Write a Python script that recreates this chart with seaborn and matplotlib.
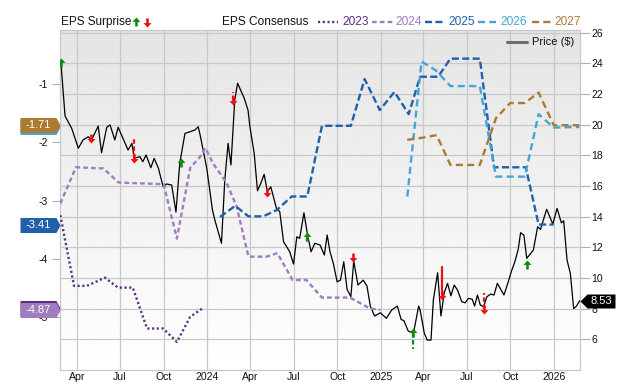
import numpy as np
import pandas as pd
import matplotlib.pyplot as plt
import matplotlib.dates as mdates
import matplotlib.transforms as mtransforms
from matplotlib.lines import Line2D
from matplotlib.ticker import FuncFormatter
import seaborn as sns

# ---- data ----
price_dates = [
    "2023-02-26", "2023-03-07", "2023-03-21", "2023-04-04", "2023-04-14", "2023-04-25",
    "2023-05-02", "2023-05-16", "2023-05-23", "2023-06-03", "2023-06-10", "2023-06-20",
    "2023-06-27", "2023-07-18", "2023-07-26", "2023-07-31", "2023-08-12", "2023-08-18",
    "2023-08-25", "2023-09-04", "2023-09-11", "2023-09-20", "2023-09-30", "2023-10-07",
    "2023-10-18", "2023-10-27", "2023-11-04", "2023-11-15", "2023-11-26", "2023-12-06",
    "2023-12-13", "2023-12-17", "2023-12-31", "2024-01-12", "2024-01-17", "2024-01-31",
    "2024-02-07", "2024-02-14", "2024-02-20", "2024-02-28", "2024-03-05", "2024-03-19",
    "2024-03-27", "2024-03-31", "2024-04-09", "2024-04-16", "2024-04-23", "2024-04-30",
    "2024-05-07", "2024-05-14", "2024-05-26", "2024-06-02", "2024-06-10", "2024-06-23",
    "2024-07-01", "2024-07-08", "2024-07-14", "2024-07-23", "2024-07-30", "2024-08-07",
    "2024-08-15", "2024-08-26", "2024-09-04", "2024-09-10", "2024-09-16", "2024-09-23",
    "2024-10-01", "2024-10-08", "2024-10-15", "2024-10-22", "2024-10-30", "2024-11-05",
    "2024-11-14", "2024-11-25", "2024-12-03", "2024-12-10", "2024-12-19", "2024-12-31",
    "2025-01-13", "2025-01-24", "2025-02-05", "2025-02-13", "2025-02-19", "2025-02-28",
    "2025-03-11", "2025-03-22", "2025-03-25", "2025-04-03", "2025-04-09", "2025-04-17",
    "2025-04-22", "2025-05-01", "2025-05-08", "2025-05-15", "2025-05-22", "2025-05-29",
    "2025-06-05", "2025-06-12", "2025-06-21", "2025-06-28", "2025-07-05", "2025-07-13",
    "2025-07-18", "2025-07-24", "2025-07-30", "2025-08-06", "2025-08-13", "2025-08-21",
    "2025-08-28", "2025-09-04", "2025-09-13", "2025-09-18", "2025-09-27", "2025-10-04",
    "2025-10-11", "2025-10-18", "2025-10-23", "2025-10-30", "2025-11-05", "2025-11-19",
    "2025-11-28", "2025-12-04", "2025-12-17", "2025-12-30", "2026-01-08", "2026-01-17",
    "2026-01-22", "2026-01-29", "2026-02-05", "2026-02-12", "2026-02-18", "2026-02-25",
]
price_values = [
    24.17, 20.56, 19.76, 18.46, 19.00, 19.21, 19.00, 19.91, 18.17, 19.83, 19.98, 19.00,
    19.83, 18.34, 18.78, 17.80, 17.91, 17.58, 18.02, 17.19, 17.80, 17.15, 15.95, 16.13,
    16.06, 14.30, 17.48, 19.43, 19.54, 19.65, 19.86, 19.32, 17.15, 14.43, 13.78, 12.26,
    16.39, 18.78, 17.37, 21.60, 22.70, 21.72, 20.95, 19.86, 18.13, 15.69, 16.17, 16.76,
    15.62, 15.95, 14.54, 14.32, 12.36, 11.71, 10.91, 12.69, 12.58, 14.25, 12.91, 11.71,
    12.26, 12.15, 11.50, 12.80, 11.71, 10.95, 9.75, 9.86, 11.06, 9.26, 8.78, 11.10,
    9.54, 9.86, 9.47, 8.17, 7.52, 7.73, 7.37, 7.91, 8.17, 7.30, 7.21, 6.54,
    6.39, 8.17, 7.91, 6.39, 5.95, 5.95, 8.56, 10.34, 7.52, 9.04, 9.65, 8.84,
    9.54, 9.21, 8.45, 8.38, 8.67, 8.61, 8.17, 8.89, 8.24, 8.13, 8.78, 8.95,
    8.89, 9.65, 9.17, 8.89, 9.75, 10.47, 11.06, 11.87, 12.95, 12.80, 11.28, 11.82,
    13.34, 13.17, 14.48, 13.52, 14.54, 13.60, 13.73, 11.17, 10.30, 8.00, 8.17, 8.53,
]

eps_2023_dates = ["2023-02-25", "2023-03-26", "2023-04-22", "2023-05-30", "2023-06-27",
                  "2023-07-28", "2023-08-27", "2023-09-30", "2023-10-29", "2023-11-26",
                  "2023-12-23"]
eps_2023 = [-3.25, -4.46, -4.46, -4.32, -4.49, -4.49, -5.19, -5.19, -5.42, -4.99, -4.84]

eps_2024_dates = ["2023-02-25", "2023-03-30", "2023-05-27", "2023-06-28", "2023-10-01",
                  "2023-10-29", "2023-11-26", "2023-12-17", "2023-12-28", "2024-01-13",
                  "2024-02-11", "2024-03-03", "2024-03-28", "2024-05-05", "2024-05-28",
                  "2024-06-29", "2024-07-28", "2024-08-30", "2024-10-28", "2024-12-10",
                  "2024-12-31"]
eps_2024 = [-3.05, -2.43, -2.45, -2.69, -2.72, -3.65, -2.44, -2.25, -2.10, -2.36,
            -2.70, -3.10, -3.96, -3.96, -3.90, -4.36, -4.36, -4.66, -4.66, -4.85, -4.87]

eps_2025_dates = ["2024-01-28", "2024-02-29", "2024-03-28", "2024-04-28", "2024-05-27",
                  "2024-06-27", "2024-07-30", "2024-08-30", "2024-10-30", "2024-11-28",
                  "2024-12-30", "2025-01-30", "2025-03-01", "2025-03-25", "2025-05-02",
                  "2025-05-28", "2025-07-29", "2025-08-28", "2025-11-03", "2025-11-30",
                  "2026-01-01"]
eps_2025 = [-3.28, -3.09, -3.27, -3.27, -3.16, -2.93, -2.93, -1.72, -1.72, -0.92,
            -1.45, -1.14, -1.52, -0.88, -0.88, -0.57, -0.57, -2.43, -2.43, -3.41, -3.41]

eps_2026_dates = ["2025-02-26", "2025-03-28", "2025-04-27", "2025-05-28", "2025-07-29",
                  "2025-09-01", "2025-11-01", "2025-11-30", "2026-01-01", "2026-02-24"]
eps_2026 = [-2.93, -0.62, -0.77, -1.04, -1.04, -2.59, -2.59, -1.52, -1.75, -1.74]

eps_2027_dates = ["2025-02-26", "2025-03-25", "2025-04-29", "2025-05-28", "2025-07-29",
                  "2025-09-01", "2025-10-01", "2025-11-01", "2025-11-30", "2026-01-01",
                  "2026-02-24"]
eps_2027 = [-1.96, -1.93, -1.88, -2.39, -2.39, -1.59, -1.33, -1.33, -1.15, -1.71, -1.71]

surprise_dates = ["2023-02-27", "2023-04-30", "2023-07-30", "2023-11-06", "2024-02-24",
                  "2024-05-07", "2024-07-30", "2024-11-04", "2025-03-11", "2025-05-10",
                  "2025-08-06", "2025-11-06"]
surprise_price = [24.05, 19.1, 17.85, 17.5, 21.6, 15.6, 12.7, 11.4, 6.4, 8.9, 8.0, 10.85]
surprise_up = [True, False, False, True, False, False, True, False, True, False, False, True]
stem_end = [None, None, 19.2, None, 22.1, None, 12.2, None, 5.4, 10.7, 9.0, None]
stem_solid = [False, False, False, False, False, False, False, False, False, True, False, False]

price_ticks = list(range(6, 27, 2))
eps_ticks = [-1, -2, -3, -4, -5]
tick_months = [1, 4, 7, 10]

c2023, c2024, c2025, c2026, c2027 = "#5b2d82", "#a07cc0", "#2060aa", "#45a5d5", "#ac7a32"
green, red = "#118a11", "#ee1111"
ls2023 = (0, (0.9, 1.1))
ls2024 = (0, (2.0, 1.3))
ls2025 = (0, (3.0, 1.4))
ls2026 = (0, (3.0, 1.8))
ls2027 = (0, (3.0, 1.8))

sns.set_theme(style="white")
plt.rcParams["font.family"] = ["Liberation Sans", "DejaVu Sans"]
plt.rcParams["axes.unicode_minus"] = False

W, H = 640, 382
fig = plt.figure(figsize=(6.4, 3.82), dpi=100)
ax = fig.add_axes([60.3 / W, 12 / H, 520 / W, 340 / H])
ax2 = ax.twinx()

# price on the main axis (right ticks)
sns.lineplot(x=pd.to_datetime(price_dates), y=price_values, ax=ax, color="black",
             linewidth=0.9, zorder=3)

# surprise arrows
up_arrow = [(0, 5), (-4, 0.6), (-1.3, 0.6), (-1.3, -4), (1.3, -4), (1.3, 0.6), (4, 0.6)]
down_arrow = [(x, -y) for x, y in up_arrow]
for d, p, up, se, solid in zip(surprise_dates, surprise_price, surprise_up, stem_end, stem_solid):
    col = green if up else red
    dt = pd.Timestamp(d)
    if se is not None:
        ax.plot([dt, dt], [p, se], color=col, lw=1.6, ls="-" if solid else (0, (2, 1.2)), zorder=4)
    ax.plot([dt], [p], marker=up_arrow if up else down_arrow, ms=7.2, mew=0,
            color=col, ls="none", zorder=5)

# consensus lines on the twin axis (left ticks)
series = [(eps_2023_dates, eps_2023, c2023, ls2023),
          (eps_2024_dates, eps_2024, c2024, ls2024),
          (eps_2025_dates, eps_2025, c2025, ls2025),
          (eps_2026_dates, eps_2026, c2026, ls2026),
          (eps_2027_dates, eps_2027, c2027, ls2027)]
for dts, vals, col, ls in series:
    sns.lineplot(x=pd.to_datetime(dts), y=vals, ax=ax2, color=col, linewidth=1.7,
                 linestyle=ls, zorder=3)

# background gradient
grad = np.linspace(0.895, 1.0, 256).reshape(-1, 1)
ax.imshow(grad, cmap="gray", vmin=0, vmax=1, aspect="auto", extent=[0, 1, 0, 1],
          transform=ax.transAxes, zorder=0)

ax.set_xlim(pd.Timestamp("2023-02-25"), pd.Timestamp("2026-02-26"))
ax.set_ylim(4.0, 26.17)
ax2.set_ylim(-5.90, -0.08)

ax.xaxis.set_major_locator(mdates.MonthLocator(bymonth=tick_months))


def fmt_date(v, pos):
    d = mdates.num2date(v)
    return str(d.year) if d.month == 1 else d.strftime("%b")


ax.xaxis.set_major_formatter(FuncFormatter(fmt_date))
ax.yaxis.tick_right()
ax.set_yticks(price_ticks)
ax2.yaxis.tick_left()
ax2.set_yticks(eps_ticks)
ax.set_xlabel("")
ax.set_ylabel("")
ax2.set_ylabel("")

ax.tick_params(axis="y", right=True, left=False, length=7, width=0.8, color="#b0b0b0",
               labelsize=7.5, pad=1, labelcolor="#111111")
ax.tick_params(axis="x", bottom=False, length=0, labelsize=7.6, pad=1.5, labelcolor="#111111")
ax2.tick_params(axis="y", left=True, right=False, length=6, width=0.8, color="#b0b0b0",
                labelsize=7.5, pad=3, labelcolor="#111111")
ax.grid(True, color="#c8c8c8", lw=0.9)
ax2.grid(False)
for s in ax.spines.values():
    s.set_color("#c8c8c8")
    s.set_linewidth(0.9)
for s in ax2.spines.values():
    s.set_visible(False)

# value tags on the left (EPS) and right (price); only the top tag of a stack shows text
left_tag = [(0, 0), (-4, -7.5), (-40, -7.5), (-40, 7.5), (-4, 7.5)]
blend_l = mtransforms.blended_transform_factory(ax2.transAxes, ax2.transData)
for vals, col, show in [(eps_2026, c2026, False), (eps_2027, c2027, True),
                        (eps_2025, c2025, True), (eps_2023, c2023, False),
                        (eps_2024, c2024, True)]:
    v = vals[-1]
    ax2.plot([0], [v], marker=left_tag, ms=57.6, mew=0, color=col, ls="none",
             transform=blend_l, clip_on=False, zorder=6)
    if show:
        ax2.annotate(f"{v:.2f}", xy=(0, v), xycoords=blend_l, xytext=(-22, 0),
                     textcoords="offset pixels", ha="center", va="center", color="white",
                     fontsize=8, zorder=7, annotation_clip=False)

right_tag = [(0, 0), (7, -7), (35, -7), (35, 7), (7, 7)]
blend_r = mtransforms.blended_transform_factory(ax.transAxes, ax.transData)
pv = price_values[-1]
ax.plot([1], [pv], marker=right_tag, ms=50.4, mew=0, color="black", ls="none",
        transform=blend_r, clip_on=False, zorder=6)
ax.annotate(f"{pv:.2f}", xy=(1, pv), xycoords=blend_r, xytext=(21, 0),
            textcoords="offset pixels", ha="center", va="center", color="white",
            fontsize=8, zorder=7, annotation_clip=False)

# header legend
ly = 1 - 22 / H
fig.text(60.7 / W, ly, "EPS Surprise", ha="left", va="center", fontsize=8.5, color="#111111")
fig.add_artist(Line2D([136 / W], [ly], marker=up_arrow, ms=7.2, mew=0, color=green, ls="none"))
fig.add_artist(Line2D([147 / W], [ly], marker=down_arrow, ms=7.2, mew=0, color=red, ls="none"))
fig.text(221.7 / W, ly, "EPS Consensus", ha="left", va="center", fontsize=8.6, color="#111111")
legend_items = [("2023", c2023, ls2023, 318, 338, 342.7),
                ("2024", c2024, ls2024, 371.7, 392.7, 395),
                ("2025", c2025, ls2025, 425, 445, 448.3),
                ("2026", c2026, ls2026, 477.7, 496, 500.7),
                ("2027", c2027, ls2027, 531.7, 550.7, 554)]
for lab, col, ls, x0, x1, xt in legend_items:
    fig.add_artist(Line2D([x0 / W, x1 / W], [ly, ly], color=col, lw=1.7, ls=ls))
    fig.text(xt / W, ly, lab, ha="left", va="center", fontsize=8.6, color=col)

py = 1 - 42.3 / H
fig.add_artist(Line2D([506.7 / W, 526.7 / W], [py, py], color="#6e6e6e", lw=2.2))
fig.text(532 / W, py, "Price ($)", ha="left", va="center", fontsize=8, color="#111111")

fig.savefig("out.png", dpi=100)
